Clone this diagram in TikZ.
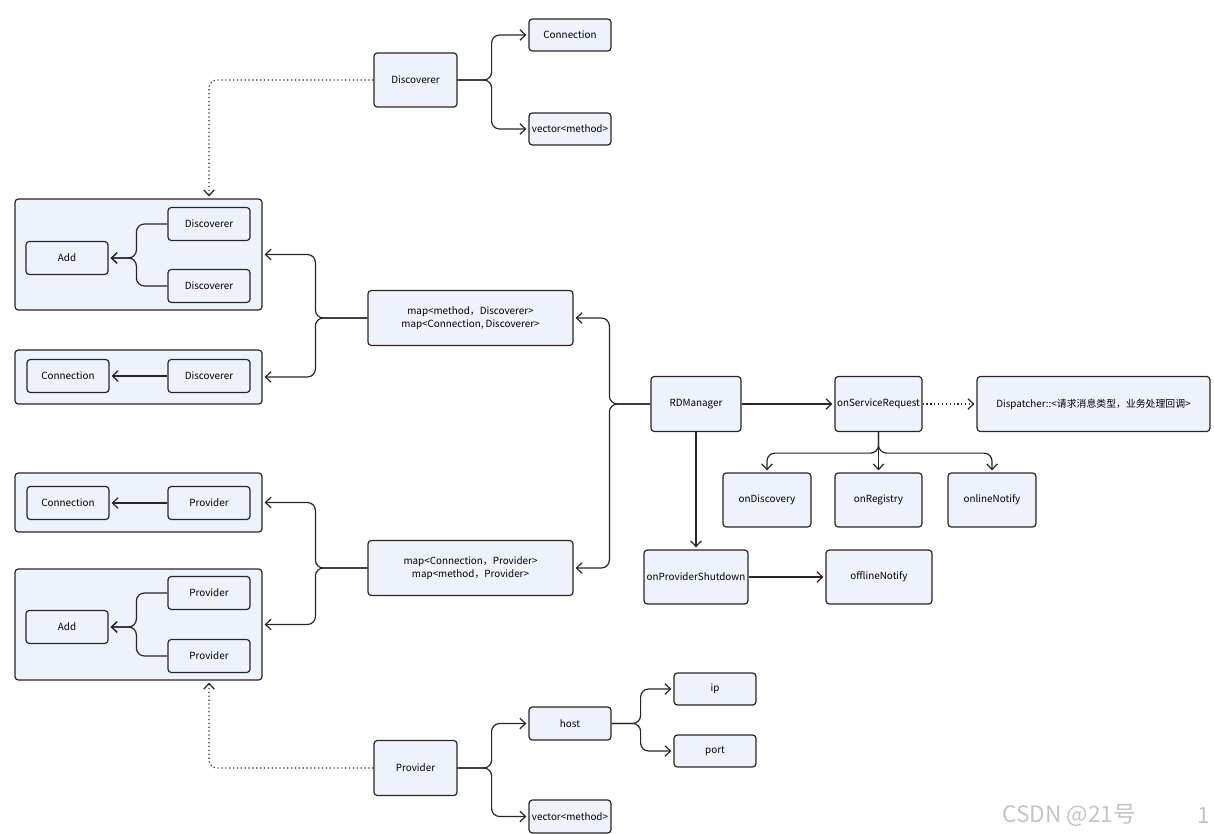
\documentclass[tikz,border=0pt]{standalone}
\usepackage{fontspec}
\newfontfamily\uifont{Noto Sans CJK SC}
\usetikzlibrary{arrows.meta}
\definecolor{ink}{HTML}{262626}
\definecolor{paper}{HTML}{EEF2FB}
\definecolor{mark}{HTML}{C4C4C4}
\tikzset{box/.style={draw=ink,fill=paper,rounded corners=2.5pt,line width=.9pt,inner sep=1pt,align=center,font=\uifont\fontsize{7.4}{10}\selectfont},sz/.style 2 args={minimum width=#1*.75pt,minimum height=#2*.75pt},panel/.style={box},flow/.style={-{Straight Barb[length=1.5mm,width=2.8mm]},line width=.9pt,draw=ink,rounded corners=6pt,shorten >=1.5pt},dotflow/.style={flow,dotted}}

\begin{document}
\begin{tikzpicture}[x=.75pt,y=-.75pt]
\useasboundingbox (0,0) rectangle (1214,834);
% left panels
\node[panel,sz={247}{111}] (dpan1) at (138.5,254.5) {};
\node[panel,sz={247}{54}] (dpan2) at (138.5,377) {};
\node[panel,sz={247}{59}] (ppan1) at (138.5,502.5) {};
\node[panel,sz={247}{111}] (ppan2) at (138.5,624.5) {};
\foreach \nm/\px/\py/\txt in {dsa/209/224/Discoverer,dsb/209/286/Discoverer,dadd/67/258/Add,dcon/68/376/Connection,dsc/209/376/Discoverer,pcon/68/503/Connection,prv/209/503/Provider,ppa/209/593/Provider,ppb/209/656/Provider,padd/67/627/Add}{
  \node[box,sz={82}{33}] (\nm) at (\px,\py) {\txt};
}
% top and bottom trees
\node[box,sz={83}{54}] (dtop) at (415.5,80) {Discoverer};
\node[box,sz={82}{32}] (dtcon) at (570,35) {Connection};
\node[box,sz={82}{32}] (dtvec) at (570,129) {vector<method>};
\node[box,sz={83}{55}] (ptop) at (415.5,768) {Provider};
\node[box,sz={82}{33}] (host) at (570,723.5) {host};
\node[box,sz={82}{33}] (ptvec) at (570,816.5) {vector<method>};
\node[box,sz={82}{32}] (ip) at (715,689) {ip};
\node[box,sz={82}{32}] (port) at (715,751) {port};
% maps and manager
\node[box,sz={205}{55}] (mapd) at (470.5,318) {map<method，Discoverer>\\map<Connection, Discoverer>};
\node[box,sz={205}{55}] (mapp) at (470.5,568) {map<Connection，Provider>\\map<method，Provider>};
\node[box,sz={90}{55}] (rdm) at (696,404) {RDManager};
\node[box,sz={87}{55}] (osr) at (878.5,404) {onServiceRequest};
\node[box,sz={233}{55}] (disp) at (1093.5,404) {Dispatcher::<请求消息类型，业务处理回调>};
\node[box,sz={88}{54}] (ond) at (767,500) {onDiscovery};
\node[box,sz={87}{54}] (onr) at (878.5,500) {onRegistry};
\node[box,sz={88}{54}] (onl) at (992,500) {onlineNotify};
\node[box,sz={104}{54}] (ops) at (696,577) {onProviderShutdown};
\node[box,sz={106}{54}] (off) at (879,577) {offlineNotify};
% connectors
\draw[flow] (dtop.east) -- ++(34,0) |- (dtcon.west);
\draw[flow] (dtop.east) -- ++(34,0) |- (dtvec.west);
\draw[dotflow] (dtop.west) -| (dsa.north |- dpan1.north);
\draw[flow] (dsa.west) -- ++(-31,0) |- (dadd.east);
\draw[flow] (dsb.west) -- ++(-31,0) |- (dadd.east);
\draw[flow] (dsc.west) -- (dcon.east);
\draw[flow] (prv.west) -- (pcon.east);
\draw[flow] (ppa.west) -- ++(-31,0) |- (padd.east);
\draw[flow] (ppb.west) -- ++(-31,0) |- (padd.east);
\draw[flow] (mapd.west) -- ++(-52,0) |- (dpan1.east);
\draw[flow] (mapd.west) -- ++(-52,0) |- (dpan2.east);
\draw[flow] (mapp.west) -- ++(-52,0) |- (ppan1.east);
\draw[flow] (mapp.west) -- ++(-52,0) |- (ppan2.east);
\draw[flow] (rdm.west) -- ++(-41,0) |- (mapd.east);
\draw[flow] (rdm.west) -- ++(-41,0) |- (mapp.east);
\draw[flow] (rdm.east) -- (osr.west);
\draw[dotflow] (osr.east) -- (disp.west);
\draw[flow] (osr.south) -- ++(0,21) -| (ond.north);
\draw[flow] (osr.south) -- (onr.north);
\draw[flow] (osr.south) -- ++(0,21) -| (onl.north);
\draw[flow] (rdm.south) -- (ops.north);
\draw[flow] (ops.east) -- (off.west);
\draw[dotflow] (ptop.west) -| (ppb.south |- ppan2.south);
\draw[flow] (ptop.east) -- ++(34,0) |- (host.west);
\draw[flow] (ptop.east) -- ++(34,0) |- (ptvec.west);
\draw[flow] (host.east) -- ++(29,0) |- (ip.west);
\draw[flow] (host.east) -- ++(29,0) |- (port.west);
% watermark
\node[text=mark,font=\uifont\fontsize{17}{20}\selectfont,anchor=west,inner sep=0pt] (wm) at (1002,815) {CSDN @21号};
\node[text=mark,font=\uifont\fontsize{17}{20}\selectfont,inner sep=0pt] (pg) at (1204,815) {1};
\end{tikzpicture}
\end{document}
